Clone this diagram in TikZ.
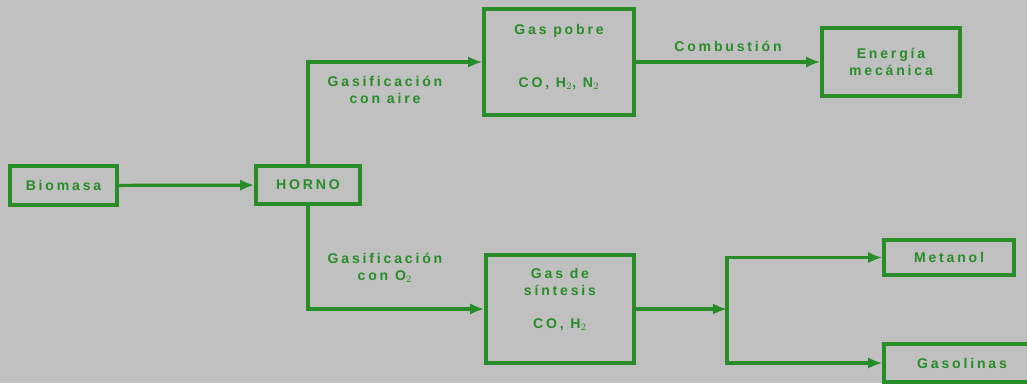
\documentclass[tikz,border=0pt]{standalone}
\usepackage{fontspec}
\newfontfamily\diafont[LetterSpace=20]{Liberation Sans}
\usepackage{tikz}
\usetikzlibrary{positioning, arrows.meta}
\definecolor{verde}{RGB}{40,140,40}
\definecolor{fondo}{RGB}{192,192,192}

\begin{document}
\begin{tikzpicture}[
    x=0.025cm, y=-0.025cm,
    font=\diafont\bfseries,
    blk/.style={draw=verde, line width=2.5pt, text=verde, align=center, inner sep=2pt},
    lbl/.style={text=verde, align=center, inner sep=1pt},
    arr/.style={draw=verde, line width=2.3pt, -{Latex[length=3.5mm, width=2.8mm]}},
  ]
  \fill[fondo] (0,0) rectangle (1027,383);
  \useasboundingbox (0,0) rectangle (1027,383);

  \node[blk, minimum width=2.675cm, minimum height=0.975cm] (bio) at (63.5,185.5) {Biomasa};
  \node[blk, minimum width=2.6cm, minimum height=0.95cm] (horno) at (308,185) {HORNO};
  \node[blk, minimum width=3.75cm, minimum height=2.65cm] (pobre) at (559,62)
    {Gas pobre\\[9mm]CO, H$_2$, N$_2$\\[-1mm]\mbox{}};
  \node[blk, minimum width=3.45cm, minimum height=1.7cm] (energia) at (891,62)
    {Energía\\mecánica};
  \node[blk, minimum width=3.7cm, minimum height=2.7cm] (sint) at (560,309)
    {Gas de\\síntesis\\[4mm]CO, H$_2$\\[1mm]\mbox{}};
  \node[blk, minimum width=3.25cm, minimum height=0.875cm] (metanol) at (949,257.5) {Metanol};
  \node[blk, minimum width=3.9cm, minimum height=0.95cm] (gasol) at (962,363) {Gasolinas};
  \coordinate (split) at (727,309);

  \draw[arr] (bio) -- (horno);
  \draw[arr] (horno.north) |- (pobre);
  \draw[arr] (horno.south) |- (sint);
  \draw[arr] (pobre) -- node[lbl, above=5pt] (comb) {Combustión} (energia);
  \draw[arr] (sint) -- (split);
  \draw[arr] (split) |- (metanol);
  \draw[arr] (split) |- (gasol);

  \node[lbl] (aire) at (385,90) {Gasificación\\con aire};
  \node[lbl] (oxig) at (385,268) {Gasificación\\con O$_2$};
\end{tikzpicture}
\end{document}
